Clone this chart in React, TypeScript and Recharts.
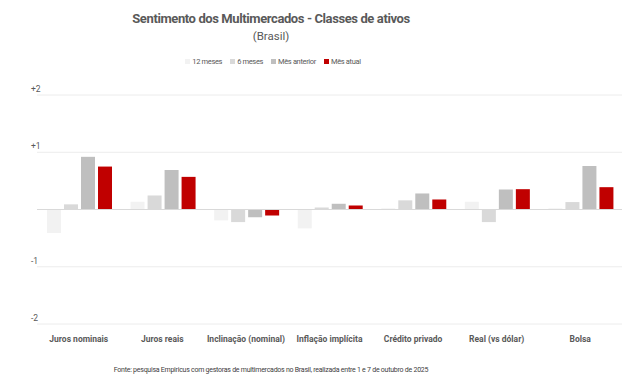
import { BarChart, Bar, XAxis, YAxis, CartesianGrid, ReferenceLine } from "recharts";

const categories = [
    "Juros nominais",
    "Juros reais",
    "Inclinação (nominal)",
    "Inflação implícita",
    "Crédito privado",
    "Real (vs dólar)",
    "Bolsa",
];
const doze = [-0.41, 0.135, -0.19, -0.33, 0.02, 0.135, 0.02];
const seis = [0.09, 0.245, -0.22, 0.035, 0.16, -0.22, 0.13];
const anterior = [0.92, 0.69, -0.135, 0.1, 0.28, 0.35, 0.76];
const atual = [0.75, 0.57, -0.105, 0.07, 0.175, 0.355, 0.39];
const yTicks = [-2, -1, 0, 1, 2];
const yLabels: Record<number, string> = { 2: "+2", 1: "+1", 0: "", [-1]: "-1", [-2]: "-2" };

const series = [
    { key: "doze", name: "12 meses", color: "#f2f2f2" },
    { key: "seis", name: "6 meses", color: "#d9d9d9" },
    { key: "anterior", name: "Mês anterior", color: "#bfbfbf" },
    { key: "atual", name: "Mês atual", color: "#c00000" },
];

const data = categories.map((name, i) => ({
    name,
    doze: doze[i],
    seis: seis[i],
    anterior: anterior[i],
    atual: atual[i],
}));

const FONT = "Roboto, 'Noto Sans', sans-serif";
const GRAY = "#595959";

function YTick(props: any) {
    const { y, payload } = props;
    return (
        <text x={31} y={y - 3} textAnchor="start" fontSize={8.5} fill={GRAY} fontFamily={FONT}>
            {yLabels[payload.value]}
        </text>
    );
}

export default function App() {
    return (
        <div style={{ position: "absolute", left: 0, top: 0, width: 626, height: 382, background: "#fff", fontFamily: FONT }}>
            <div style={{ position: "absolute", left: 0, width: 542, top: 11, textAlign: "center", fontSize: 13, fontWeight: 700, letterSpacing: -0.4, color: GRAY }}>
                Sentimento dos Multimercados - Classes de ativos
            </div>
            <div style={{ position: "absolute", left: 0, width: 542, top: 29, textAlign: "center", fontSize: 11.5, color: GRAY }}>
                (Brasil)
            </div>
            <div style={{ position: "absolute", left: 0, width: 546, top: 57, display: "flex", justifyContent: "center", gap: 8, fontSize: 7.5, letterSpacing: -0.35, color: GRAY }}>
                {series.map((s) => (
                    <div key={s.key} style={{ display: "flex", alignItems: "center", gap: 2 }}>
                        <span style={{ display: "inline-block", width: 5, height: 5, background: s.color }} />
                        <span>{s.name}</span>
                    </div>
                ))}
            </div>
            <BarChart
                width={626}
                height={382}
                data={data}
                margin={{ top: 95, right: 4, left: 0, bottom: 28 }}
                barCategoryGap={10}
                barGap={3}
            >
                <CartesianGrid vertical={false} stroke="#ececec" />
                <XAxis
                    dataKey="name"
                    height={30}
                    axisLine={false}
                    tickLine={false}
                    interval={0}
                    tickMargin={6}
                    tick={{ fontSize: 8.5, fontWeight: 700, fill: GRAY, fontFamily: FONT }}
                />
                <YAxis
                    width={37}
                    domain={[-2, 2]}
                    ticks={yTicks}
                    axisLine={false}
                    tickLine={false}
                    tick={<YTick />}
                />
                <ReferenceLine y={0} stroke="#d9d9d9" />
                {series.map((s) => (
                    <Bar key={s.key} dataKey={s.key} name={s.name} fill={s.color} isAnimationActive={false} />
                ))}
            </BarChart>
            <div style={{ position: "absolute", left: 0, width: 542, top: 366, textAlign: "center", fontSize: 7, letterSpacing: -0.25, color: "#404040" }}>
                Fonte: pesquisa Empiricus com gestoras de multimercados no Brasil, realizada entre 1 e 7 de outubro de 2025
            </div>
        </div>
    );
}
